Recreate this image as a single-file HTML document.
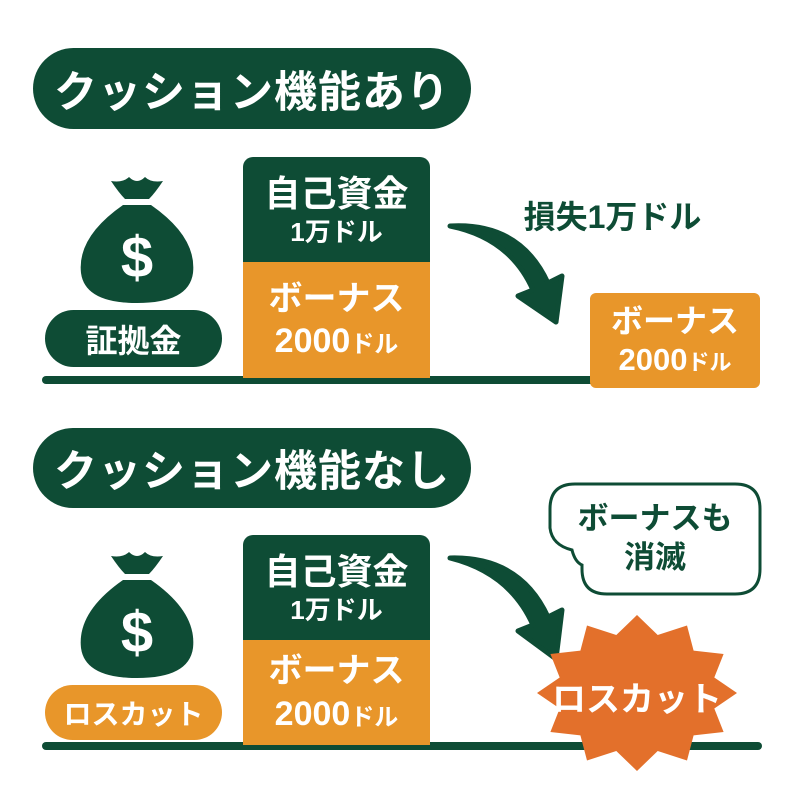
<!DOCTYPE html>
<html><head><meta charset="utf-8"><style>
body{margin:0;width:800px;height:800px;background:#fff;position:relative;overflow:hidden;font-family:"Liberation Sans","Noto Sans CJK JP",sans-serif;font-weight:bold}
.a{position:absolute;box-sizing:border-box;display:flex;align-items:center;justify-content:center;text-align:center}
.g{background:#0e4c35;color:#fff}
.o{background:#e8962a;color:#fff}
</style></head><body>
<svg width="800" height="800" style="position:absolute;left:0;top:0">
<defs>
<g id="bag">
<path d="M-26,-74 Q-18,-62 -12,-56 L12,-56 Q18,-62 26,-74 Q14,-72 8,-78 Q0,-70 -8,-78 Q-14,-72 -26,-74Z" fill="#0e4c35"/>
<path d="M-14,-50 L14,-50 Q60,-18 56,18 Q52,48 0,48 Q-52,48 -56,18 Q-60,-18 -14,-50Z" fill="#0e4c35"/>
<text x="0" y="22" font-size="58" fill="#fff" text-anchor="middle" font-family="Liberation Sans" font-weight="bold">$</text>
</g>
</defs>
<use href="#bag" x="137" y="255"/>
<use href="#bag" x="137" y="630"/>
<line x1="46" y1="380" x2="592" y2="380" stroke="#0e4c35" stroke-width="8" stroke-linecap="round"/>
<line x1="46" y1="746" x2="758" y2="746" stroke="#0e4c35" stroke-width="8" stroke-linecap="round"/>
<path d="M450,226 Q510,238 533,290 L518,296 L556,322 L562,276 L548,283 Q520,222 450,226Z" fill="#0e4c35" stroke="#0e4c35" stroke-width="5" stroke-linejoin="round"/>
<path d="M450,558 Q510,573 533,625 L518,631 L556,659 L562,610 L548,617 Q520,556 450,558Z" fill="#0e4c35" stroke="#0e4c35" stroke-width="5" stroke-linejoin="round"/>
<polygon fill="#e3702b" points="637,615 657.7,635 687,625.5 693.6,650.6 723.6,654 714.3,677.5 737,693 714.3,708.5 723.6,732 693.6,735.4 687,760.5 657.7,751 637,771 616.3,751 587,760.5 580.4,735.4 550.4,732 559.7,708.5 537,693 559.7,677.5 550.4,654 580.4,650.6 587,625.5 616.3,635"/>
<path d="M575,484 L735,484 Q760,484 760,509 L760,569 Q760,594 735,594 L607,594 Q582,594 582,569 L582,565 Q575,562 572,550 Q552,545 550,528 L550,509 Q550,484 575,484Z" fill="#fff" stroke="#0e4c35" stroke-width="3"/>
</svg>
<div class="a g" style="left:33px;top:48px;width:438px;height:81px;border-radius:41px;font-size:43px;letter-spacing:1px">クッション機能あり</div>
<div class="a g" style="left:33px;top:428px;width:438px;height:80px;border-radius:40px;font-size:43px;letter-spacing:1px">クッション機能なし</div>
<div class="a g" style="left:45px;top:310px;width:177px;height:57px;border-radius:29px;font-size:32px">証拠金</div>
<div class="a o" style="left:45px;top:685px;width:177px;height:55px;border-radius:28px;font-size:28px">ロスカット</div>
<div class="a g" style="left:243px;top:157px;width:187px;height:105px;border-radius:10px 10px 0 0;flex-direction:column;line-height:1.25"><span style="font-size:36px">自己資金</span><span style="font-size:26px">1万ドル</span></div>
<div class="a o" style="left:243px;top:262px;width:187px;height:116px;flex-direction:column;line-height:1.25"><span style="font-size:34px">ボーナス</span><span style="font-size:34px">2000<small style="font-size:24px">ドル</small></span></div>
<div class="a g" style="left:243px;top:535px;width:187px;height:105px;border-radius:10px 10px 0 0;flex-direction:column;line-height:1.25"><span style="font-size:36px">自己資金</span><span style="font-size:26px">1万ドル</span></div>
<div class="a o" style="left:243px;top:640px;width:187px;height:105px;flex-direction:column;line-height:1.25"><span style="font-size:34px">ボーナス</span><span style="font-size:34px">2000<small style="font-size:24px">ドル</small></span></div>
<div class="a o" style="left:590px;top:293px;width:170px;height:95px;border-radius:6px;flex-direction:column;line-height:1.25"><span style="font-size:32px">ボーナス</span><span style="font-size:31px">2000<small style="font-size:22px">ドル</small></span></div>
<div class="a" style="left:505px;top:190px;width:215px;height:50px;color:#0e4c35;font-size:32px">損失1万ドル</div>
<div class="a" style="left:560px;top:494px;width:190px;height:90px;color:#0e4c35;font-size:31px;flex-direction:column;line-height:1.25"><span>ボーナスも</span><span>消滅</span></div>
<div class="a" style="left:540px;top:668px;width:194px;height:56px;color:#fff;font-size:34px">ロスカット</div>
</body></html>
